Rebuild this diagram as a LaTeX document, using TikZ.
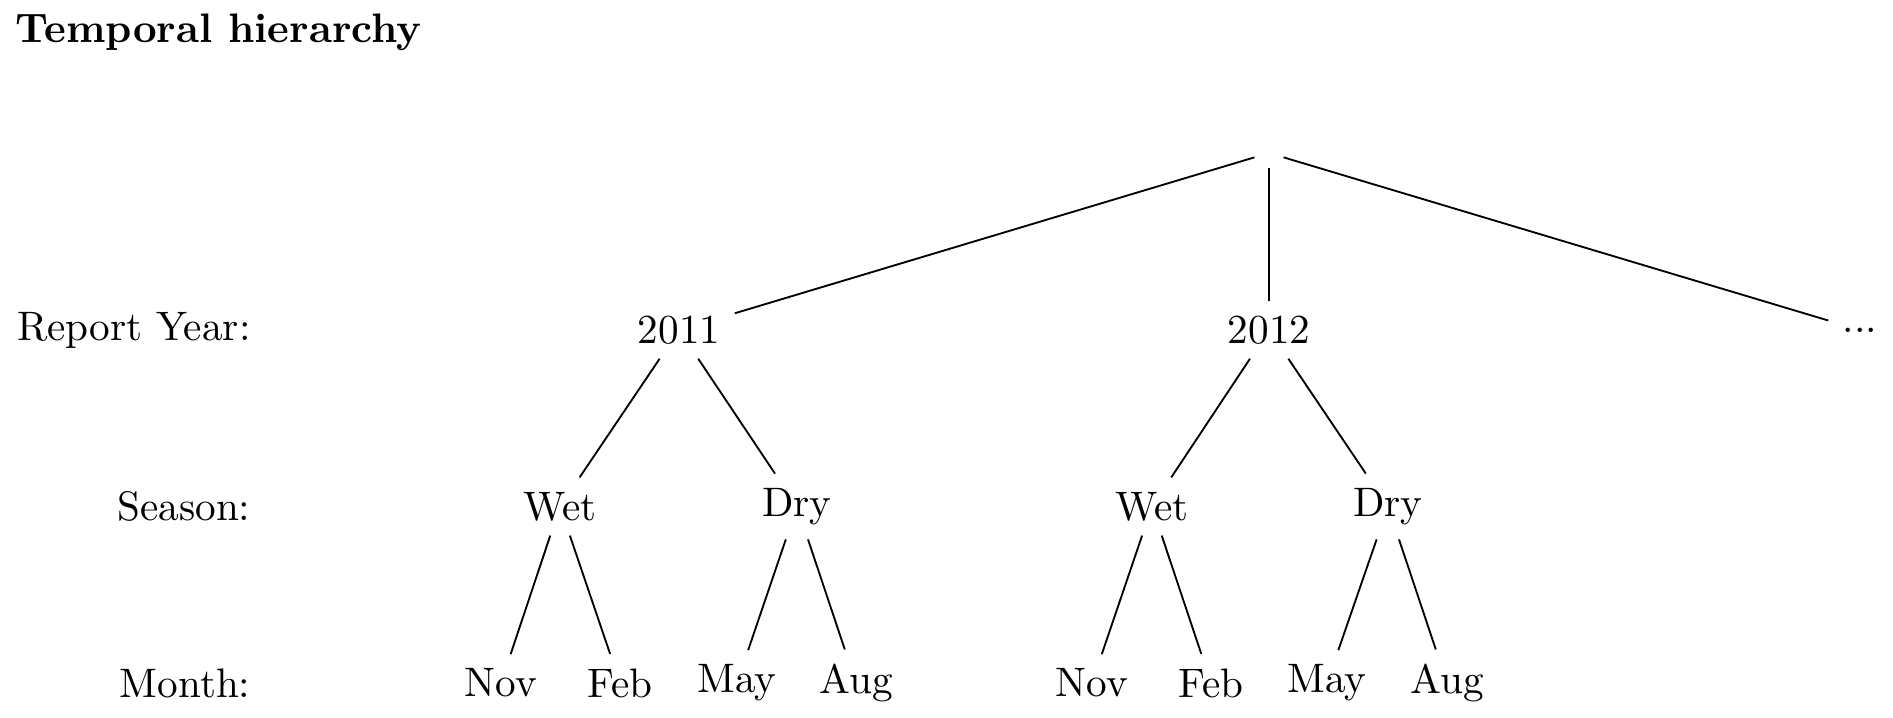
\documentclass[tikz,border=0pt]{standalone}
\begin{document}
\begin{tikzpicture}[x=0.2427pt, y=-0.2427pt,
  lbl/.style={anchor=east},
  tn/.style={},
  edge/.style={draw, line width=0.45pt}]
\useasboundingbox (0,0) rectangle (1893,718);
\node[anchor=base west, inner sep=0pt, font=\bfseries] (title) at (14.5,43) {Temporal hierarchy};
% level labels
\node[lbl] (lyear) at (265,330) {Report Year:};
\node[lbl] (lseason) at (265,506.5) {Season:};
\node[lbl] (lmonth) at (265,683) {Month:};
% tree nodes
\node[tn] (root) at (1269,153) {};
\node[tn] (y11) at (679,330) {2011};
\node[tn] (y12) at (1269,330) {2012};
\node[tn] (ymore) at (1860,330) {...};
\node[tn] (w11) at (560,506.5) {Wet};
\node[tn] (d11) at (797,506.5) {Dry};
\node[tn] (w12) at (1152,506.5) {Wet};
\node[tn] (d12) at (1388,506.5) {Dry};
\node[tn] (n11) at (501,683) {Nov};
\node[tn] (f11) at (620,683) {Feb};
\node[tn] (m11) at (737,683) {May};
\node[tn] (a11) at (856,683) {Aug};
\node[tn] (n12) at (1092,683) {Nov};
\node[tn] (f12) at (1211,683) {Feb};
\node[tn] (m12) at (1327,683) {May};
\node[tn] (a12) at (1447,683) {Aug};
% edges
\path[edge] (root) -- (y11);
\path[edge] (root) -- (y12);
\path[edge] (root) -- (ymore);
\path[edge] (y11) -- (w11);
\path[edge] (y11) -- (d11);
\path[edge] (y12) -- (w12);
\path[edge] (y12) -- (d12);
\path[edge] (w11) -- (n11);
\path[edge] (w11) -- (f11);
\path[edge] (d11) -- (m11);
\path[edge] (d11) -- (a11);
\path[edge] (w12) -- (n12);
\path[edge] (w12) -- (f12);
\path[edge] (d12) -- (m12);
\path[edge] (d12) -- (a12);
\end{tikzpicture}
\end{document}
